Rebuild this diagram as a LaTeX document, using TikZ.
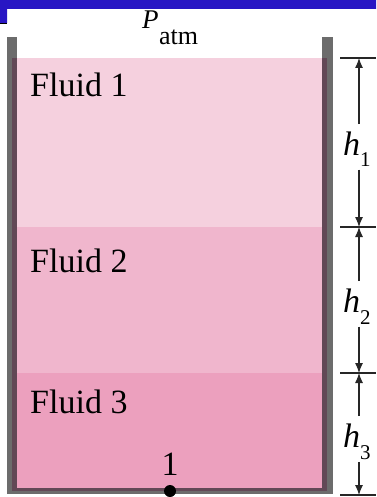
\documentclass[tikz,border=0pt]{standalone}
\usepackage{fontspec}
\setmainfont{Liberation Serif}
\usepackage{xcolor}
\usepackage{tikz}
\usetikzlibrary{calc, arrows.meta}

\definecolor{fluidA}{RGB}{245,208,222}
\definecolor{fluidB}{RGB}{240,182,205}
\definecolor{fluidC}{RGB}{236,160,190}
\definecolor{wallgray}{RGB}{108,108,108}
\definecolor{wallmauve}{RGB}{98,72,86}
\definecolor{slideblue}{RGB}{40,22,196}

\tikzset{
    fluidlabel/.style={anchor=base west, inner sep=0pt, font=\fontsize{34}{40}\selectfont},
    hlabel/.style={anchor=base west, inner sep=0pt, font=\fontsize{34}{40}\selectfont},
    tickline/.style={line width=1.2pt, black!85},
    dimline/.style={line width=1.1pt, black!85}
}

\begin{document}
\begin{tikzpicture}[x=1pt, y=-1pt, >={Latex[length=10pt,width=8pt]}]
                \useasboundingbox (0,0) rectangle (376,497);

                % 1. Slide edge
                \fill[slideblue] (0,0) -- (376,0) -- (376,9) -- (7,9) -- (7,23) -- (0,23) -- cycle;
                \draw[line width=1.5pt] (0,23.5) -- (7,23.5);

                % 2. Fluid layers
                \foreach \i/\ya/\yb/\yt/\col in {1/58/227/97/fluidA, 2/227/373/272/fluidB, 3/373/490/413/fluidC} {
                    \fill[\col] (12,\ya) rectangle (327,\yb);
                    \node[fluidlabel] (fluid\i) at (30,\yt) {Fluid \i};
                }

                % 3. Tank walls
                \fill[wallgray] (7,37) rectangle (17,494);
                \fill[wallgray] (322,37) rectangle (333,494);
                \fill[wallgray] (7,488) rectangle (333,494);
                \fill[wallmauve] (12,58) rectangle (17,491);
                \fill[wallmauve] (322,58) rectangle (327,491);
                \fill[wallmauve] (12,488) rectangle (327,491);

                % 4. Atmospheric pressure
                \node[anchor=base west, inner sep=0pt, font=\fontsize{27}{30}\selectfont\itshape] (patm) at (142,29) {P};
                \node[anchor=base west, inner sep=0pt, font=\fontsize{26}{30}\selectfont] (patmsub) at (159,45) {atm};

                % 5. Point 1 at the bottom
                \node[circle, fill=black, inner sep=0pt, minimum size=12pt] (pt1) at (170,491) {};
                \node[anchor=base, inner sep=0pt, font=\fontsize{34}{40}\selectfont] (pt1label) at (170,475) {1};

                % 6. Heights
                \foreach \j/\y in {0/58, 1/227, 2/373, 3/495} {
                    \coordinate (t\j) at (359,\y);
                    \draw[tickline] ([xshift=-19pt]t\j) -- ([xshift=17pt]t\j);
                }
                \foreach \i/\yh in {1/155, 2/312, 3/447} {
                    \node[hlabel] (h\i) at (343,\yh) {\textit{h}\raisebox{-12pt}{\fontsize{21}{24}\selectfont\i}};
                }
                \foreach \i/\a/\b in {1/0/1, 2/1/2, 3/2/3} {
                    \draw[dimline, ->, shorten <=7pt] (h\i.north -| t\a) -- (t\a);
                    \draw[dimline, ->, shorten <=2.5pt] (h\i.south -| t\a) -- (t\b);
                }
            \end{tikzpicture}
\end{document}
